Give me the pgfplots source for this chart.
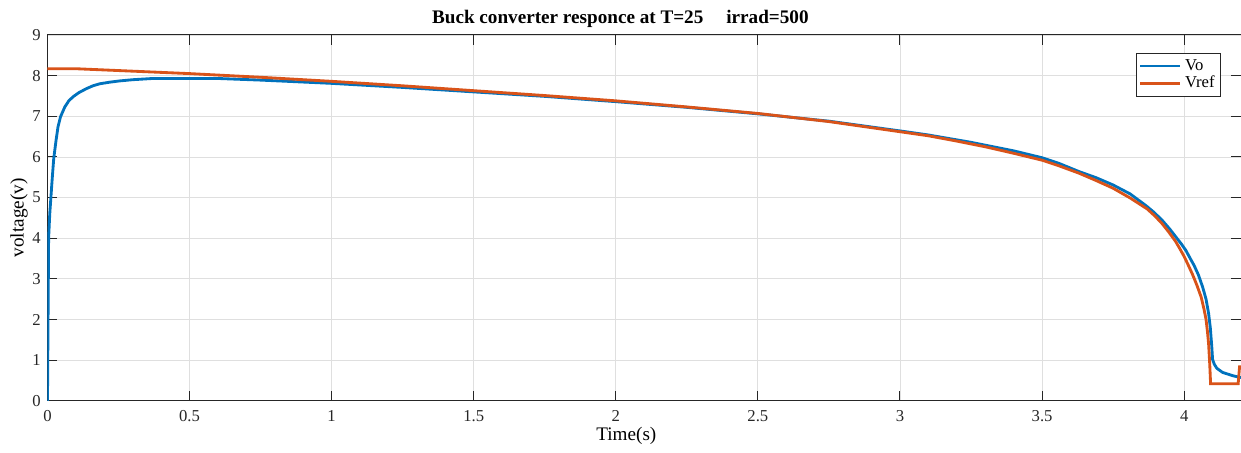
\documentclass[border=0pt]{standalone}
\usepackage{fontspec}
\setmainfont{Liberation Serif}
\usepackage{pgfplots}
\pgfplotsset{compat=1.18}
\definecolor{mblue}{HTML}{0072BD}
\definecolor{morange}{HTML}{D95319}
\definecolor{axgray}{HTML}{262626}
\definecolor{gridgray}{HTML}{DFDFDF}
\begin{document}
\begin{tikzpicture}
\path[use as bounding box] (-28.5pt,-31.2pt) rectangle (716.4pt,240.6pt);
\begin{axis}[
  scale only axis,
  width=716.4pt, height=219.6pt,
  xmin=0, xmax=4.2, ymin=0, ymax=9,
  xtick={0,0.5,...,4}, ytick={0,1,...,9},
  xticklabels={0,0.5,1,1.5,2,2.5,3,3.5,4},
  grid=major,
  major grid style={gridgray, line width=0.5pt},
  axis line style={axgray, line width=0.6pt},
  tick style={axgray, line width=0.6pt},
  tick align=inside,
  major tick length=6pt,
  xtick pos=both, ytick pos=both,
  /pgf/number format/assume math mode=true,
  tick label style={font=\fontsize{10}{12}\selectfont, text=axgray},
  xticklabel style={yshift=-2pt},
  yticklabel style={xshift=-0.5pt},
  title={\textbf{Buck converter responce at T=25\hspace{1.2em}irrad=500}},
  title style={at={(rel axis cs:0.48,1)}, anchor=base, yshift=0.6pt, font=\fontsize{11.5}{13}\selectfont},
  xlabel={Time(s)},
  xlabel style={at={(rel axis cs:0.485,0)}, anchor=base, yshift=-24pt, font=\fontsize{11.5}{13}\selectfont},
  ylabel={voltage(v)},
  ylabel style={font=\fontsize{11.5}{13}\selectfont},
  ylabel shift=-4pt,
  legend style={at={(rel axis cs:0.912,0.951)}, anchor=north west, draw=axgray, line width=0.6pt,
    font=\fontsize{10}{12}\selectfont, inner sep=1.5pt, row sep=-2pt, cells={anchor=west}},
  legend cell align=left,
  legend image code/.code={\draw[#1] (0pt,0pt) -- (24pt,0pt);},
]
\addplot[mblue, line width=1.7pt] coordinates {
(0,0) (0.002,2.0) (0.004,4.0) (0.008,4.6) (0.012,5.0) (0.017,5.5) (0.022,5.96)
(0.03,6.4) (0.037,6.74) (0.046,6.99) (0.061,7.23) (0.075,7.38) (0.09,7.48)
(0.11,7.58) (0.137,7.68) (0.16,7.75) (0.184,7.80) (0.22,7.84) (0.254,7.87)
(0.3,7.90) (0.37,7.93) (0.5,7.93) (0.6,7.93) (0.75,7.89) (1.0,7.81) (1.25,7.71)
(1.5,7.60) (1.75,7.49) (2.0,7.36) (2.25,7.22) (2.5,7.06) (2.75,6.88) (3.0,6.64)
(3.1,6.54) (3.2,6.42) (3.25,6.36) (3.3,6.29) (3.4,6.15) (3.5,5.98) (3.56,5.84)
(3.63,5.64) (3.69,5.49) (3.75,5.31) (3.81,5.09) (3.866,4.80) (3.895,4.63)
(3.924,4.43) (3.95,4.22) (3.971,4.03) (3.99,3.86) (4.006,3.70) (4.02,3.52)
(4.035,3.33) (4.05,3.10) (4.065,2.80) (4.077,2.50) (4.086,2.15) (4.092,1.80)
(4.097,1.35) (4.100,1.02) (4.106,0.90) (4.115,0.80) (4.135,0.70) (4.17,0.62)
(4.2,0.57)
};
\addlegendentry{Vo}
\addplot[morange, line width=1.7pt] coordinates {
(0,8.17) (0.1,8.17) (0.2,8.14) (0.3,8.11) (0.4,8.08) (0.5,8.05) (0.75,7.96)
(1.0,7.86) (1.25,7.75) (1.5,7.63) (1.75,7.51) (2.0,7.38) (2.25,7.23) (2.5,7.07)
(2.75,6.87) (3.0,6.62) (3.1,6.52) (3.2,6.39) (3.25,6.32) (3.3,6.25) (3.4,6.09)
(3.5,5.92) (3.56,5.78) (3.63,5.60) (3.69,5.42) (3.75,5.23) (3.81,4.99)
(3.87,4.72) (3.895,4.56) (3.92,4.38) (3.945,4.16) (3.97,3.92) (3.985,3.74)
(4.0,3.55) (4.015,3.33) (4.03,3.10) (4.045,2.84) (4.06,2.55) (4.07,2.25)
(4.077,2.0) (4.082,1.70) (4.086,1.40) (4.09,0.9) (4.093,0.42) (4.19,0.42)
(4.195,0.84) (4.2,0.84)
};
\addlegendentry{Vref}
\end{axis}
\end{tikzpicture}
\end{document}
